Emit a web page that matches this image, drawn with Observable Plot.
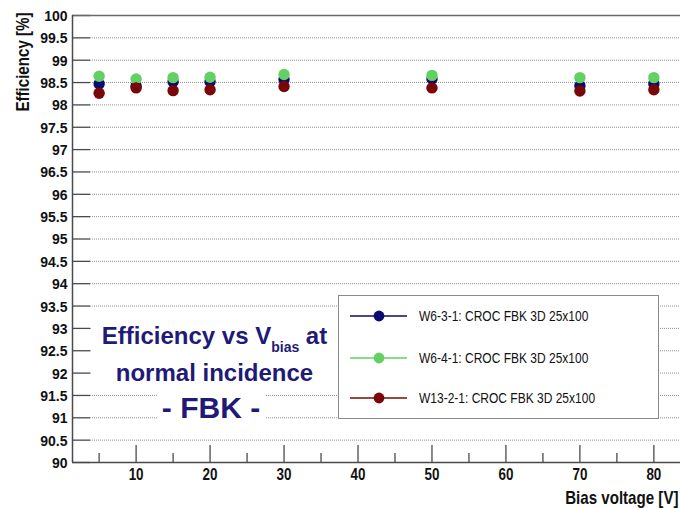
<!DOCTYPE html>
<html>
<head>
<meta charset="utf-8">
<script src="https://cdn.jsdelivr.net/npm/d3@7"></script>
<script src="https://cdn.jsdelivr.net/npm/@observablehq/plot@0.6"></script>
<style>
  html, body { margin: 0; padding: 0; background: #fff; }
  #chart { position: relative; width: 680px; height: 508px; overflow: hidden; font-family: "Liberation Sans", Arial, sans-serif; }
  #chart svg { position: absolute; left: 0; top: 0; }
  .note { position: absolute; background: #fff; color: #1f1a78; font-weight: bold; text-align: center; white-space: nowrap; }
  .note .sub { font-size: 14px; position: relative; top: 8px; }
  #legend { position: absolute; left: 338px; top: 295px; width: 321px; height: 124px; box-sizing: border-box; border: 1.3px solid #8a8a8a; background: #fff; }
  #legend .row { position: absolute; left: 11px; height: 20px; width: 300px; }
  #legend .row svg { position: absolute; left: 0; top: 0; }
  #legend .row span { position: absolute; left: 69px; top: 1px; font-size: 15px; line-height: 18px; color: #111; white-space: nowrap; transform: scaleX(0.8); transform-origin: 0 50%; }
</style>
</head>
<body>
<div id="chart"></div>
<script>
// Bias voltage scan of three FBK 3D sensors (CROC readout, 25x100 pitch)
const biasVoltage = [5, 10, 15, 20, 30, 50, 70, 80];
const effW631  = [98.47, 98.42, 98.52, 98.52, 98.57, 98.58, 98.43, 98.47];
const effW641  = [98.64, 98.58, 98.61, 98.62, 98.68, 98.66, 98.61, 98.61];
const effW1321 = [98.26, 98.38, 98.32, 98.34, 98.41, 98.38, 98.31, 98.34];

const seriesNames  = ["W6-3-1: CROC FBK 3D 25x100", "W6-4-1: CROC FBK 3D 25x100", "W13-2-1: CROC FBK 3D 25x100"];
const seriesValues = [effW631, effW641, effW1321];
const seriesColors = ["#0b0a70", "#62d062", "#7a0707"];

const yTicks = [90, 90.5, 91, 91.5, 92, 92.5, 93, 93.5, 94, 94.5, 95, 95.5, 96, 96.5, 97, 97.5, 98, 98.5, 99, 99.5, 100];
const xMajorTicks = [10, 20, 30, 40, 50, 60, 70, 80];
const xMinorTicks = [5, 15, 25, 35, 45, 55, 65, 75];
const xDomain = [1.4, 83.6];
const yDomain = [90, 100];

const yTitle = "Efficiency [%]";
const xTitle = "Bias voltage [V]";

// long table: one row per (series, voltage)
const rows = seriesNames.flatMap((name, i) =>
  biasVoltage.map((v, j) => ({series: name, bias: v, eff: seriesValues[i][j]}))
);

const W = 680, H = 508, mL = 72, mR = 0, mT = 15, mB = 46;
const plotW = W - mL - mR, plotH = H - mT - mB;
const axisColor = "#4a4a4a";
const boldFont = "Liberation Sans, Arial, sans-serif";

const chart = Plot.plot({
  width: W, height: H,
  marginLeft: mL, marginRight: mR, marginTop: mT, marginBottom: mB,
  style: {background: "#fff", fontFamily: boldFont, color: "#111"},
  x: {domain: xDomain, label: null},
  y: {domain: yDomain, label: null},
  color: {domain: seriesNames, range: seriesColors},
  marks: [
    // dotted horizontal grid, starting after the inward ticks
    Plot.ruleY(yTicks.filter(t => t > yDomain[0] && t < yDomain[1]), {stroke: "#8f8f8f", strokeWidth: 1, strokeDasharray: "1,1", insetLeft: 18}),
    // inward ticks on the left axis
    Plot.ruleY(yTicks, {stroke: axisColor, strokeWidth: 1.3, insetRight: plotW - 18}),
    // inward ticks on the bottom axis (major / minor)
    Plot.ruleX(xMajorTicks, {stroke: axisColor, strokeWidth: 1.3, insetTop: plotH - 17}),
    Plot.ruleX(xMinorTicks, {stroke: axisColor, strokeWidth: 1.3, insetTop: plotH - 9}),
    // frame lines
    Plot.ruleY([yDomain[0]], {stroke: axisColor, strokeWidth: 1.5}),
    Plot.ruleY([yDomain[1]], {stroke: "#6a6a6a", strokeWidth: 1.5}),
    Plot.ruleX([xDomain[0]], {stroke: axisColor, strokeWidth: 1.5}),
    // tick labels
    Plot.axisY(yTicks, {tickSize: 0, tickPadding: 5, label: null, tickFormat: d => String(d),
      fontSize: 14, fontWeight: "bold", fill: "#111", dy: 1}),
    Plot.axisX(xMajorTicks, {tickSize: 0, tickPadding: 6, label: null, tickFormat: d => String(d),
      fontSize: 16, fontWeight: "bold", fill: "#111"}),
    // measurements
    Plot.dot(rows, {x: "bias", y: "eff", fill: "series", r: 5.7}),
    // axis titles
    Plot.text([yTitle], {frameAnchor: "top-left", rotate: -90, textAnchor: "end", lineAnchor: "middle", dx: -49, dy: -3,
      fontSize: 18, fontWeight: "bold", fill: "#111"}),
    Plot.text([xTitle], {frameAnchor: "bottom-right", textAnchor: "end", lineAnchor: "top", dx: -2, dy: 29,
      fontSize: 18, fontWeight: "bold", fill: "#111"})
  ]
});

// condensed lettering for the x tick labels and both axis titles
const condense = (sel, sx) => sel.each(function() {
  const t = this.getAttribute("transform");
  this.setAttribute("transform", (t ? t + " " : "") + `scale(${sx},1)`);
});
const svg = d3.select(chart);
condense(svg.selectAll("g[aria-label='x-axis tick label'] text"), 0.84);
condense(svg.selectAll("g[aria-label='text'] text"), 0.84);

const root = document.getElementById("chart");
root.appendChild(chart);

// annotation boxes (white background hides the grid behind them)
const note1 = document.createElement("div");
note1.className = "note";
note1.style.cssText = "left:92px;top:316px;width:245px;height:70px;padding-top:3px;box-sizing:border-box;font-size:24px;line-height:33px;";
note1.innerHTML = 'Efficiency vs V<span class="sub">bias</span> at<br>normal incidence';
root.appendChild(note1);

const note2 = document.createElement("div");
note2.className = "note";
note2.style.cssText = "left:157px;top:393px;width:108px;height:30px;font-size:30px;line-height:30px;";
note2.textContent = "- FBK -";
root.appendChild(note2);

// legend: line + marker + label per series
const legend = document.createElement("div");
legend.id = "legend";
const rowTops = [10, 52, 92];
seriesNames.forEach((name, i) => {
  const row = document.createElement("div");
  row.className = "row";
  row.style.top = rowTops[i] + "px";
  const icon = d3.create("svg").attr("width", 60).attr("height", 20);
  icon.append("line").attr("x1", 0).attr("x2", 57).attr("y1", 10).attr("y2", 10)
    .attr("stroke", seriesColors[i]).attr("stroke-width", 1.6);
  icon.append("circle").attr("cx", 29).attr("cy", 10).attr("r", 5.4).attr("fill", seriesColors[i]);
  row.appendChild(icon.node());
  const label = document.createElement("span");
  label.textContent = name;
  row.appendChild(label);
  legend.appendChild(row);
});
root.appendChild(legend);
</script>
</body>
</html>
